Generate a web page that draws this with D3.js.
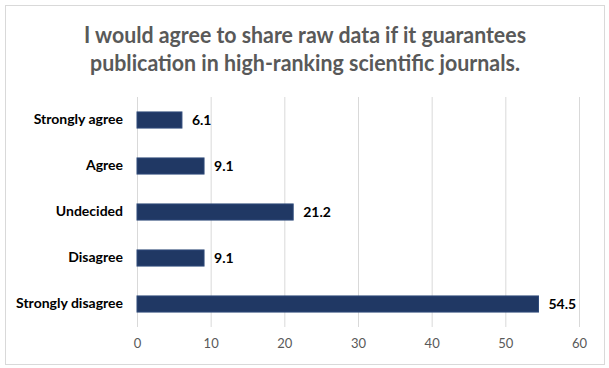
<!DOCTYPE html>
<html>
<head>
<meta charset="utf-8">
<script src="https://cdn.jsdelivr.net/npm/d3@7"></script>
<style>
  body { margin: 0; background: #fff; }
  svg { display: block; }
</style>
</head>
<body>
<script>
const categories = ["Strongly agree", "Agree", "Undecided", "Disagree", "Strongly disagree"];
const values = [6.1, 9.1, 21.2, 9.1, 54.5];
const xTicks = [0, 10, 20, 30, 40, 50, 60];
const titleLines = [
  "I would agree to share raw data if it guarantees",
  "publication in high-ranking scientific journals."
];

const W = 609, H = 368;
const margin = {top: 97, right: 30, bottom: 41, left: 137};
const width = W - margin.left - margin.right;   // ~442
const height = H - margin.top - margin.bottom;  // ~230

const svg = d3.select("body")
  .append("svg")
  .attr("width", W)
  .attr("height", H)

// outer frame
svg.append("rect")
  .attr("x", 5.5).attr("y", 5.5)
  .attr("width", 599).attr("height", 359)
  .attr("fill", "#fff")
  .attr("stroke", "#d9d9d9")
  .attr("stroke-width", 1)

// title
svg.append("g")
  .selectAll("text")
  .data(titleLines)
  .enter()
  .append("text")
  .attr("x", 305)
  .attr("y", (d, i) => 43 + i * 28)
  .attr("text-anchor", "middle")
  .attr("font-family", "Lato, sans-serif")
  .attr("font-weight", "bold")
  .attr("font-size", 22)
  .attr("fill", "#595959")
  .attr("textLength", (d, i) => i == 0 ? 442 : 430)
  .attr("lengthAdjust", "spacingAndGlyphs")
  .text(d => d)

const xScale = d3.scaleLinear()
  .domain([0, 60])
  .range([0, width]);

const yScale = d3.scaleBand()
  .domain(categories)
  .range([0, height])
  .paddingInner(0.65)
  .paddingOuter(0.325);

const chartGroup = svg.append("g")
  .attr("transform", `translate(${margin.left}, ${margin.top})`)

// gridlines
chartGroup.append("g")
  .selectAll("line")
  .data(xTicks)
  .enter()
  .append("line")
  .attr("x1", d => xScale(d) + 0.5)
  .attr("x2", d => xScale(d) + 0.5)
  .attr("y1", 0)
  .attr("y2", height)
  .attr("stroke", "#d9d9d9")
  .attr("stroke-width", 1)

// x axis labels
const xAxis = d3.axisBottom(xScale)
  .tickValues(xTicks)
  .tickSize(0)
  .tickPadding(12)

chartGroup.append("g")
  .attr("class", "axis x")
  .attr("transform", `translate(0, ${height})`)
  .call(xAxis)
  .call(g => g.select(".domain").remove())
  .call(g => g.selectAll("text")
    .attr("font-family", "Lato, sans-serif")
    .attr("font-size", 13)
    .attr("fill", "#595959"))

// y axis labels
const yAxis = d3.axisLeft(yScale)
  .tickSize(0)
  .tickPadding(14)

chartGroup.append("g")
  .attr("class", "axis y")
  .call(yAxis)
  .call(g => g.select(".domain").remove())
  .call(g => g.selectAll("text")
    .attr("font-family", "Lato, sans-serif")
    .attr("font-weight", "bold")
    .attr("font-size", 14)
    .attr("fill", "#000"))

const data = categories.map((c, i) => ({category: c, value: values[i]}));

// bars
chartGroup.selectAll("rect.bar")
  .data(data)
  .enter()
  .append("rect")
  .attr("class", "bar")
  .attr("x", xScale(0))
  .attr("y", d => yScale(d.category))
  .attr("width", d => xScale(d.value) - xScale(0))
  .attr("height", yScale.bandwidth())
  .attr("fill", "#203864")
  .attr("stroke", "#2f4a7a")
  .attr("stroke-width", 1)

// value labels
chartGroup.selectAll("text.val")
  .data(data)
  .enter()
  .append("text")
  .attr("class", "val")
  .attr("x", d => xScale(d.value) + 10)
  .attr("y", d => yScale(d.category) + yScale.bandwidth() / 2)
  .attr("dy", "0.35em")
  .attr("font-family", "Lato, sans-serif")
  .attr("font-weight", "bold")
  .attr("font-size", 14)
  .attr("fill", "#000")
  .text(d => d.value)
</script>
</body>
</html>
